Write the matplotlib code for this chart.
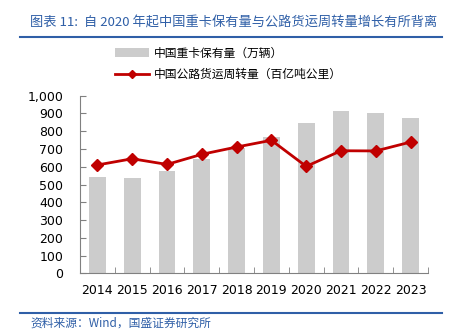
import matplotlib
matplotlib.use("Agg")
import matplotlib.pyplot as plt
from matplotlib.lines import Line2D
from matplotlib.patches import Patch
import numpy as np

plt.rcParams['font.family'] = ['Noto Sans CJK SC', 'DejaVu Sans']

# data
years = ["2014", "2015", "2016", "2017", "2018", "2019", "2020", "2021", "2022", "2023"]
trucks = [540, 535, 578, 642, 708, 769, 848, 914, 901, 876]
freight = [610, 645, 613, 670, 711, 749, 602, 690, 689, 739]
yticks = [0, 100, 200, 300, 400, 500, 600, 700, 800, 900, 1000]
ytick_labels = ["0", "100", "200", "300", "400", "500", "600", "700", "800", "900", "1,000"]

title = "图表 11:  自 2020 年起中国重卡保有量与公路货运周转量增长有所背离"
source = "资料来源：Wind，国盛证券研究所"
bar_label = "中国重卡保有量（万辆）"
line_label = "中国公路货运周转量（百亿吨公里）"

BLUE = "#2F5FA7"
RED = "#C00000"
GRAY = "#CCCCCC"

fig = plt.figure(figsize=(4.6, 3.36), dpi=100)
ax = fig.add_axes([80 / 460, 1 - 273.3 / 336, (428 - 80) / 460, (273.3 - 95.7) / 336])

x = np.arange(len(years))
ax.bar(x, trucks, width=0.48, color=GRAY, zorder=1)
ax.plot(x, freight, color=RED, lw=2, marker="D", markersize=6.5, zorder=3)

ax.set_xlim(-0.5, len(years) - 0.5)
ax.set_ylim(0, 1000)
ax.set_yticks(yticks)
ax.set_yticklabels(ytick_labels)
ax.set_xticks(x)
ax.set_xticklabels(years)
ax.set_xticks(np.arange(-0.5, len(years), 1.0), minor=True)
ax.tick_params(axis="x", which="major", length=0, pad=8, labelsize=9)
ax.tick_params(axis="x", which="minor", length=4, direction="in", color="#808080")
ax.tick_params(axis="y", length=4, direction="in", color="#808080", labelsize=9, pad=12)
for lab in ax.get_xticklabels() + ax.get_yticklabels():
    lab.set_family("DejaVu Sans")
for s in ["top", "right"]:
    ax.spines[s].set_visible(False)
for s in ["left", "bottom"]:
    ax.spines[s].set_color("#808080")
    ax.spines[s].set_linewidth(0.8)

# title + rules
fig.text(30 / 460, 1 - 23 / 336, title, color=BLUE, fontsize=9.5, style="italic",
         va="center", ha="left")
fig.add_artist(Line2D([20 / 460, 442 / 460], [1 - 37 / 336, 1 - 37 / 336],
                      color=BLUE, lw=1.5))
fig.add_artist(Line2D([20 / 460, 442 / 460], [1 - 313 / 336, 1 - 313 / 336],
                      color=BLUE, lw=1.5))
fig.text(30 / 460, 1 - 323 / 336, source, color=BLUE, fontsize=8.5, style="italic",
         va="center", ha="left")

# legend
handles = [Patch(facecolor=GRAY, edgecolor="none"),
           Line2D([0], [0], color=RED, lw=2, marker="D", markersize=4)]
fig.legend(handles, [bar_label, line_label], loc="upper left",
           bbox_to_anchor=(104 / 460, 1 - 36 / 336), frameon=False,
           fontsize=8.5, handlelength=2.9, handletextpad=0.4, labelspacing=0.7)

fig.savefig("out.png", dpi=100)
